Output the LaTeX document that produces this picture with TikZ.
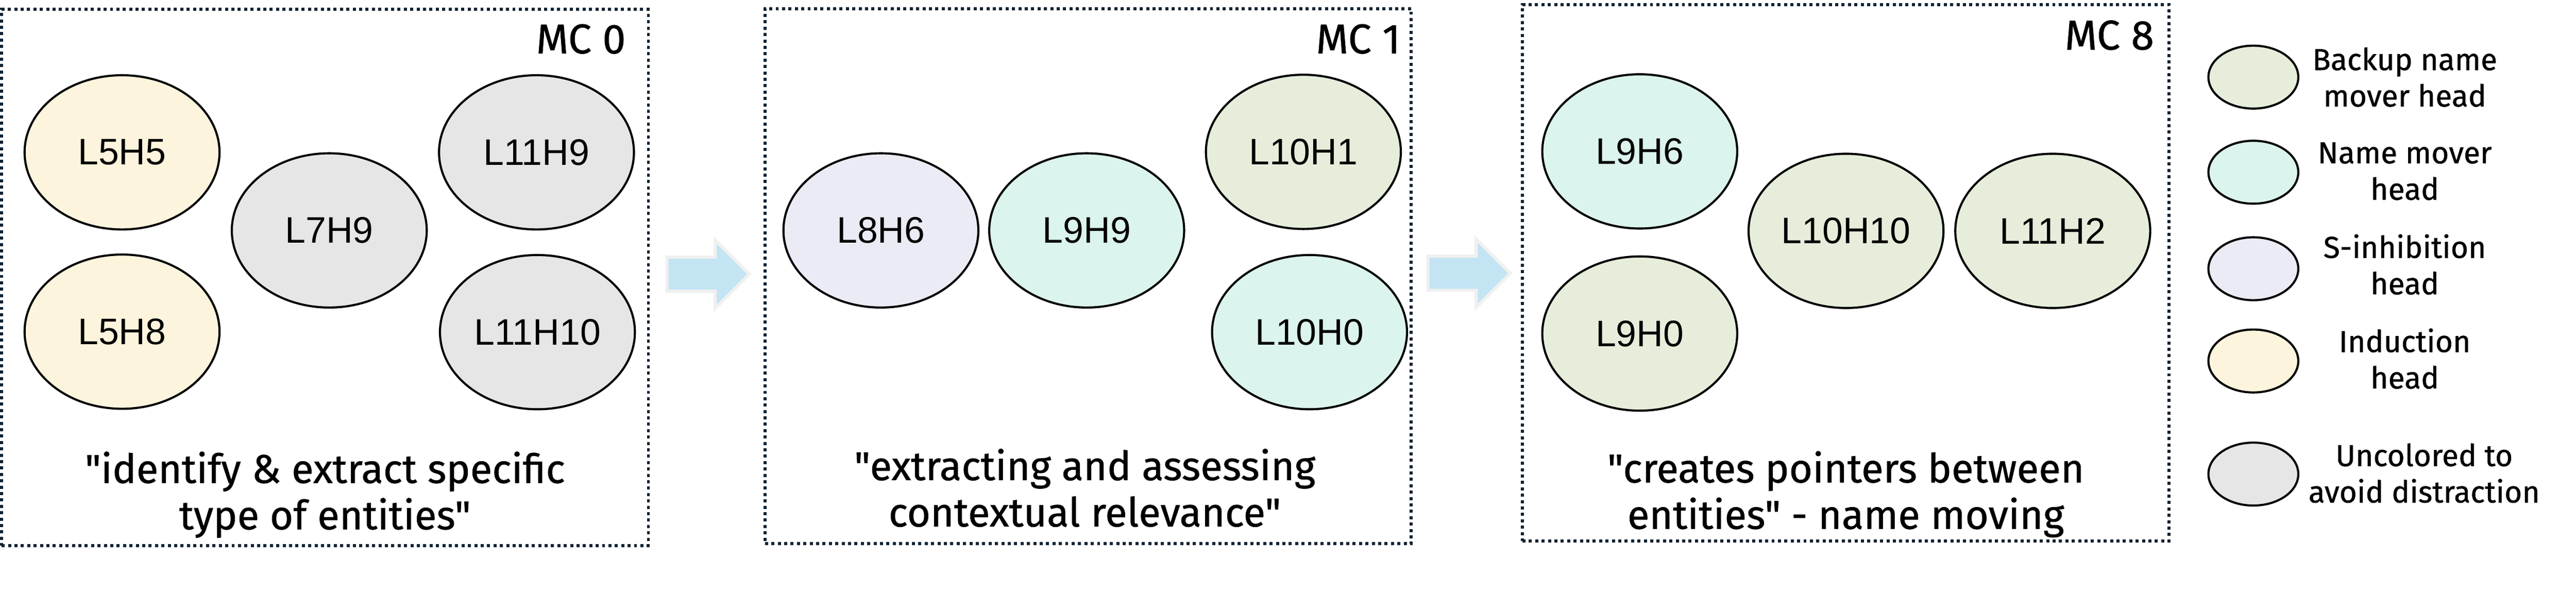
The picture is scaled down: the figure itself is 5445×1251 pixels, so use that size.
\documentclass[tikz,border=0pt]{standalone}
\usepackage{fontspec}
\setmainfont{Fira Sans}[Ligatures=TeXOff, FakeBold=0.8]
\newfontfamily\headfont{Liberation Sans}
\usetikzlibrary{shapes.geometric,calc,positioning}

\definecolor{backupc}{HTML}{E6EEDB}
\definecolor{moverc}{HTML}{DBF4ED}
\definecolor{sinhc}{HTML}{EBEBF5}
\definecolor{inductc}{HTML}{FCF4DC}
\definecolor{greyc}{HTML}{E6E6E6}
\definecolor{framec}{HTML}{0B2232}
\definecolor{flowc}{HTML}{C2E4F3}
\definecolor{flowedge}{HTML}{F0F0F0}

\begin{document}
\begin{tikzpicture}[x=1pt, y=-1pt,
  head/.style={ellipse, draw=black, line width=4.5pt, minimum width=412pt, minimum height=326pt, inner sep=0pt, font=\headfont\fontsize{78}{80}\selectfont},
  key/.style={ellipse, draw=black, line width=4.5pt, minimum width=190pt, minimum height=133pt, inner sep=0pt},
  mcbox/.style={draw=framec, line width=6.5pt, dash pattern=on 6.5pt off 7pt, minimum width=1367pt, minimum height=1133pt, inner sep=0pt},
  mctitle/.style={anchor=base east, inner sep=0pt, font=\fontsize{88}{90}\selectfont},
  quote/.style={anchor=north, align=center, inner sep=0pt, font=\fontsize{85}{98}\selectfont},
  keytext/.style={align=center, inner sep=0pt, font=\fontsize{64}{77}\selectfont},
  flow/.style={draw=flowedge, fill=flowc, line width=6.7pt},
  flowarrow/.pic={\draw[flow] (0,-36) -- (102,-36) -- (102,-72) -- (174,0) -- (102,72) -- (102,36) -- (0,36) -- cycle;}
]
\useasboundingbox (0,0) rectangle (5445,1251);

% the three MC frames
\node[mcbox] (mc0) at (687,586.5) {};
\node[mcbox, minimum width=1366pt, minimum height=1131pt] (mc1) at (2300,583.5) {};
\node[mcbox] (mc8) at (3901.5,576.5) {};
\node[mctitle] (t0) at ($(mc0.north east)+(-51,96)$) {MC 0};
\node[mctitle] (t1) at ($(mc1.north east)+(-26,98)$) {MC 1};
\node[mctitle] (t8) at ($(mc8.north east)+(-35,98)$) {MC 8};

% heads in MC 0
\node[head, fill=inductc] (l5h5) at (258,322) {L5H5};
\node[head, fill=inductc] (l5h8) at (258,701) {L5H8};
\node[head, fill=greyc] (l7h9) at (696,487) {L7H9};
\node[head, fill=greyc] (l11h9) at (1134,322) {L11H9};
\node[head, fill=greyc] (l11h10) at (1136,702) {L11H10};

% heads in MC 1
\node[head, fill=sinhc] (l8h6) at (1862,487) {L8H6};
\node[head, fill=moverc] (l9h9) at (2297,487) {L9H9};
\node[head, fill=backupc] (l10h1) at (2755,321) {L10H1};
\node[head, fill=moverc] (l10h0) at (2768,702) {L10H0};

% heads in MC 8
\node[head, fill=moverc] (l9h6) at (3466,320) {L9H6};
\node[head, fill=backupc] (l9h0) at (3466,705) {L9H0};
\node[head, fill=backupc] (l10h10) at (3902,488) {L10H10};
\node[head, fill=backupc] (l11h2) at (4339,488) {L11H2};

% descriptions
\node[quote] (q0) at ($(mc0.south)+(0,-202)$) {"identify \& extract specific\\type of entities"};
\node[quote] (q1) at ($(mc1.south)+(-7,-204)$) {"extracting and assessing\\contextual relevance"};
\node[quote] (q8) at ($(mc8.south)+(0,-193)$) {"creates pointers between\\entities" - name moving};

% arrows between the frames
\pic at ($(mc0.east)+(36,-7)$) {flowarrow};
\pic at ($(mc1.east)+(32,-6)$) {flowarrow};

% legend
\node[key, fill=backupc] (k1) at (4763,163) {};
\node[key, fill=moverc] (k2) at (4763,364) {};
\node[key, fill=sinhc] (k3) at (4763,568) {};
\node[key, fill=inductc] (k4) at (4763,763) {};
\node[key, fill=greyc] (k5) at (4763,1002) {};
\node[keytext] (kt1) at ($(k1)+(320,0)$) {Backup name\\mover head};
\node[keytext] (kt2) at ($(k2)+(320,-2)$) {Name mover\\head};
\node[keytext] (kt3) at ($(k3)+(320,-9)$) {S-inhibition\\head};
\node[keytext] (kt4) at ($(k4)+(320,-5)$) {Induction\\head};
\node[keytext] (kt5) at ($(k5)+(361,-2)$) {Uncolored to\\avoid distraction};
\end{tikzpicture}
\end{document}
